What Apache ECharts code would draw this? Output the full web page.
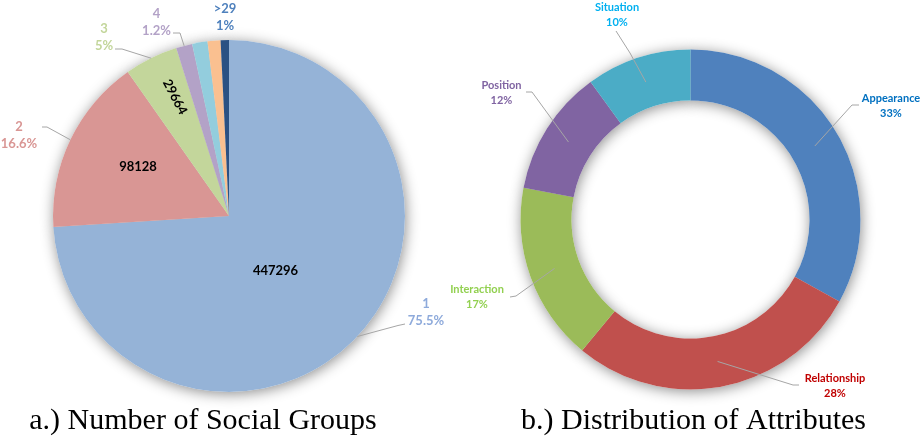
<!DOCTYPE html>
<html><head><meta charset="utf-8">
<script src="https://cdn.jsdelivr.net/npm/echarts@6/dist/echarts.min.js"></script>
<style>html,body{margin:0;padding:0;background:#fff}#c{width:923px;height:445px}</style>
</head><body><div id="c"></div>
<script>
// ---------- data ----------
const groupCategories = ['1', '2', '3', '4', '5-9', '10-29', '>29'];
const groupCounts = [447296, 98128, 29664, 9000, 8500, 7200, 4600];
const groupPercentLabels = ['75.5%', '16.6%', '5%', '1.2%', '', '', '1%'];
const groupValueLabels = ['447296', '98128', '29664', '', '', '', ''];

const attrCategories = ['Appearance', 'Relationship', 'Interaction', 'Position', 'Situation'];
const attrShares = [33, 28, 17, 12, 10];
const attrPercentLabels = ['33%', '28%', '17%', '12%', '10%'];

const panelTitles = ['a.) Number of Social Groups', 'b.) Distribution of Attributes'];

// ---------- styles ----------
const groupColors = ['#95B3D7', '#D99694', '#C3D69B', '#B3A2C7', '#93CDDD', '#FAC090', '#2B5183'];
const groupLabelColors = ['#8EAADB', '#D99694', '#C3D69B', '#B3A2C7', '#93CDDD', '#FAC090', '#4F81BD'];
const attrColors = ['#4F81BD', '#C0504D', '#9BBB59', '#8064A2', '#4BACC6'];
const attrLabelColors = ['#0070C0', '#C00000', '#92D050', '#8064A2', '#00B0F0'];

const L = { cx: 229, cy: 216, r: 176 };
const R = { cx: 690.5, cy: 219.5, r0: 119, r: 170 };

function midAngle(values, i) {
  const total = values.reduce((a, b) => a + b, 0);
  let before = 0;
  for (let k = 0; k < i; k++) before += values[k];
  const frac = (before + values[i] / 2) / total;
  return Math.PI / 2 - frac * 2 * Math.PI;
}
function polar(c, r, a) { return [c.cx + r * Math.cos(a), c.cy - r * Math.sin(a)]; }

// label placement: centre of label block + leader line (elbow, end)
const groupLabelPlace = [
  { x: 426, y: 312, line: [[398, 325.5], [405, 324]] },
  { x: 19, y: 135, line: [[47, 127], [42, 127]] },
  { x: 104, y: 37, line: [[122, 49], [115, 49]] },
  { x: 156.5, y: 22, line: [[180, 33], [173, 33]] },
  null, null,
  { x: 225, y: 17, line: null }
];
const groupValuePlace = [
  { x: 275.5, y: 271 }, { x: 138, y: 167 }, { x: 175, y: 97 }
];
const attrLabelPlace = [
  { x: 891, y: 106, line: [[852, 105], [859, 105]] },
  { x: 835, y: 385.5, line: [[793, 385], [799, 385]] },
  { x: 477, y: 297, line: [[516, 296], [510, 297]] },
  { x: 501.5, y: 93, line: [[532, 92], [526, 92]] },
  { x: 617, y: 14.5, line: [[630, 53], [616, 31]] }
];

const labelLineStyle = { color: '#A6A6A6', width: 1 };
const clear = 'rgba(0,0,0,0)';

const groupData = groupCategories.map((name, i) => ({
  name: name, value: groupCounts[i], itemStyle: { color: groupColors[i] }
}));
const groupLabelData = groupCategories.map((name, i) => ({
  name: name,
  value: groupCounts[i],
  label: { show: groupPercentLabels[i] !== '', color: groupLabelColors[i] },
  labelLine: { show: groupPercentLabels[i] !== '' && !!(groupLabelPlace[i] && groupLabelPlace[i].line) }
}));
const groupValueData = groupCategories.map((name, i) => ({
  name: name,
  value: groupCounts[i],
  label: { show: groupValueLabels[i] !== '', rotate: i === 2 ? -62 : 0 }
}));
const groupShadowData = groupCategories.map((name, i) => ({ name: name, value: groupCounts[i] }));

const attrData = attrCategories.map((name, i) => ({
  name: name, value: attrShares[i], itemStyle: { color: attrColors[i] }
}));
const attrLabelData = attrCategories.map((name, i) => ({
  name: name, value: attrShares[i], label: { color: attrLabelColors[i] }
}));
const attrShadowData = attrCategories.map((name, i) => ({ name: name, value: attrShares[i] }));

const shadowStyle = { color: '#ffffff', shadowBlur: 14, shadowColor: 'rgba(0,0,0,0.45)', shadowOffsetX: 1, shadowOffsetY: 2 };

const base = { type: 'pie', startAngle: 90, clockwise: true, avoidLabelOverlap: false, emphasis: { disabled: true } };

const chart = echarts.init(document.getElementById('c'), null, { renderer: 'canvas' });
chart.setOption({
  animation: false,
  backgroundColor: '#ffffff',
  series: [
    Object.assign({}, base, {
      name: 'groupShadow', silent: true, z: 1, center: [L.cx, L.cy], radius: L.r,
      label: { show: false }, labelLine: { show: false }, itemStyle: shadowStyle, data: groupShadowData
    }),
    Object.assign({}, base, {
      name: 'groups', z: 2, center: [L.cx, L.cy], radius: L.r,
      label: { show: false }, labelLine: { show: false }, data: groupData
    }),
    Object.assign({}, base, {
      name: 'groupLabels', silent: true, z: 3, center: [L.cx, L.cy], radius: L.r,
      itemStyle: { color: clear },
      label: {
        position: 'outside', fontFamily: 'Lato', fontWeight: 'bold', fontSize: 13, lineHeight: 17,
        formatter: p => groupCategories[p.dataIndex] + '\n' + groupPercentLabels[p.dataIndex]
      },
      labelLine: { lineStyle: labelLineStyle, smooth: false },
      labelLayout: function (p) {
        const pl = groupLabelPlace[p.dataIndex];
        if (!pl) return {};
        const out = { x: pl.x, y: pl.y, align: 'center', verticalAlign: 'middle' };
        if (pl.line) out.labelLinePoints = [polar(L, L.r, midAngle(groupCounts, p.dataIndex))].concat(pl.line);
        return out;
      },
      data: groupLabelData
    }),
    Object.assign({}, base, {
      name: 'groupValues', silent: true, z: 4, center: [L.cx, L.cy], radius: L.r,
      itemStyle: { color: clear },
      label: {
        position: 'inside', color: '#000', fontFamily: 'Lato', fontWeight: 'bold', fontSize: 13,
        formatter: p => groupValueLabels[p.dataIndex]
      },
      labelLine: { show: false },
      labelLayout: function (p) {
        const pl = groupValuePlace[p.dataIndex];
        if (!pl) return {};
        return { x: pl.x, y: pl.y, align: 'center', verticalAlign: 'middle' };
      },
      data: groupValueData
    }),
    Object.assign({}, base, {
      name: 'attrShadow', silent: true, z: 1, center: [R.cx, R.cy], radius: [R.r0, R.r],
      label: { show: false }, labelLine: { show: false }, itemStyle: shadowStyle, data: attrShadowData
    }),
    Object.assign({}, base, {
      name: 'attributes', z: 2, center: [R.cx, R.cy], radius: [R.r0, R.r],
      label: { show: false }, labelLine: { show: false }, data: attrData
    }),
    Object.assign({}, base, {
      name: 'attrLabels', silent: true, z: 3, center: [R.cx, R.cy], radius: [R.r0, R.r],
      itemStyle: { color: clear },
      label: {
        position: 'outside', fontFamily: 'Lato', fontWeight: 'bold', fontSize: 11, lineHeight: 15,
        formatter: p => attrCategories[p.dataIndex] + '\n' + attrPercentLabels[p.dataIndex]
      },
      labelLine: { show: true, lineStyle: labelLineStyle, smooth: false },
      labelLayout: function (p) {
        const pl = attrLabelPlace[p.dataIndex];
        return {
          x: pl.x, y: pl.y, align: 'center', verticalAlign: 'middle',
          labelLinePoints: [polar(R, (R.r0 + R.r) / 2, midAngle(attrShares, p.dataIndex))].concat(pl.line)
        };
      },
      data: attrLabelData
    })
  ],
  graphic: [
    { type: 'text', x: 203, y: 421, style: { text: panelTitles[0], font: '30px "Liberation Serif"', fill: '#000', textAlign: 'center', textVerticalAlign: 'middle' } },
    { type: 'text', x: 693.5, y: 421, style: { text: panelTitles[1], font: '30px "Liberation Serif"', fill: '#000', textAlign: 'center', textVerticalAlign: 'middle' } }
  ]
});
</script>
</body></html>
